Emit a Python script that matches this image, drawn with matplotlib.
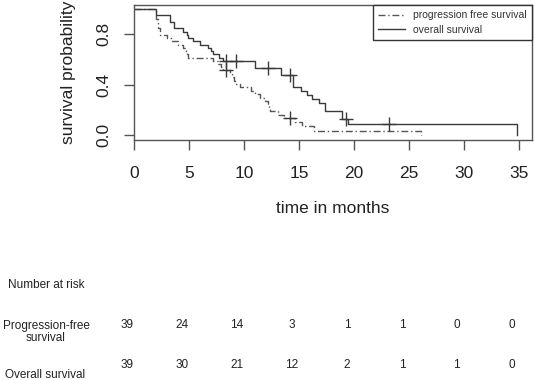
import matplotlib
matplotlib.use('Agg')
import matplotlib.pyplot as plt
import matplotlib.transforms as mtransforms

plt.rcParams['font.family'] = ['Liberation Sans', 'DejaVu Sans']

# overall survival: step times (months) and survival level after each step
os_time = [0, 2.0, 3.3, 3.6, 4.5, 4.8, 4.9, 5.4, 6.0, 6.7, 7.0, 7.2, 7.7, 8.1,
           11.0, 13.4, 14.5, 15.2, 15.7, 16.2, 16.8, 17.4, 18.9, 19.5, 34.8]
os_surv = [1.0, 0.949, 0.897, 0.846, 0.821, 0.795, 0.769, 0.744, 0.718, 0.692, 0.667, 0.641, 0.615, 0.590,
           0.534, 0.475, 0.380, 0.348, 0.317, 0.285, 0.253, 0.190, 0.127, 0.085, 0.0]
os_cens_t = [8.4, 9.3, 12.2, 14.2, 19.3, 23.2]
os_cens_s = [0.590, 0.590, 0.534, 0.475, 0.127, 0.085]

# progression free survival
pfs_time = [0, 2.0, 2.2, 2.4, 3.0, 3.4, 4.0, 4.5, 4.7, 4.8, 4.9,
            7.2, 7.6, 7.9, 8.1, 8.7, 8.9, 9.1, 9.3, 9.6,
            10.6, 11.0, 11.5, 11.9, 12.2, 12.3, 12.4, 13.1, 13.6, 14.6, 15.3, 16.4, 26.1]
pfs_surv = [1.0, 0.923, 0.846, 0.795, 0.769, 0.744, 0.718, 0.692, 0.667, 0.641, 0.615,
            0.590, 0.564, 0.538, 0.513, 0.486, 0.459, 0.432, 0.405, 0.378,
            0.351, 0.324, 0.297, 0.270, 0.243, 0.216, 0.189, 0.162, 0.135, 0.101, 0.068, 0.034, 0.0]
pfs_cens_t = [8.4, 14.2]
pfs_cens_s = [0.513, 0.135]

# number at risk table
risk_times = [0, 5, 10, 15, 20, 25, 30, 35]
pfs_risk = [39, 24, 14, 3, 1, 1, 0, 0]
os_risk = [39, 30, 21, 12, 2, 1, 1, 0]

line_col = '#3a3a3a'
axis_col = '#555555'

fig = plt.figure(figsize=(5.35, 3.8), dpi=100)
ax = fig.add_axes([134 / 535, 1 - 140 / 380, 398 / 535, 135 / 380])

ax.step(pfs_time, pfs_surv, where='post', color='#555555', lw=1.0,
        linestyle=(0, (5, 2, 1, 2)), label='progression free survival')
ax.step(os_time, os_surv, where='post', color=line_col, lw=1.0, label='overall survival')
ax.plot(pfs_cens_t, pfs_cens_s, '+', color=line_col, ms=10, mew=1.0)
ax.plot(os_cens_t, os_cens_s, '+', color=line_col, ms=10, mew=1.0)

ax.set_xlim(0, 36.2)
ax.set_ylim(-0.04, 1.032)
ax.set_xticks(risk_times)
ax.set_yticks([0.0, 0.4, 0.8])
ax.set_yticklabels(['0.0', '0.4', '0.8'], rotation=90, va='center')
for s in ax.spines.values():
    s.set_color(axis_col)
    s.set_linewidth(1.0)
ax.tick_params(axis='both', direction='out', length=7, width=1.0, color=axis_col,
               labelsize=12.5, labelcolor='#222222')
ax.tick_params(axis='x', pad=12)
ax.tick_params(axis='y', pad=9)

ax.set_xlabel('time in months', fontsize=12.5, color='#222222', labelpad=14)
ax.set_ylabel('survival probability', fontsize=12.5, color='#222222', labelpad=15)

leg = ax.legend(loc='upper right', fontsize=7.5, frameon=True, fancybox=False,
                framealpha=1, edgecolor='#333333', borderpad=0.5, handlelength=2.6,
                labelspacing=0.45, borderaxespad=0)
leg.get_frame().set_linewidth(1.0)
for t in leg.get_texts():
    t.set_color('#333333')

# number at risk table below the plot
tab_kw = dict(fontsize=8.5, color='#222222', va='center')
fig.text(8 / 535, 1 - 285 / 380, 'Number at risk', ha='left', **tab_kw)
fig.text(46 / 535, 1 - 332 / 380, 'Progression-free\nsurvival', ha='center',
         multialignment='center', linespacing=1.1, **tab_kw)
fig.text(45 / 535, 1 - 375 / 380, 'Overall survival', ha='center', **tab_kw)

shift = mtransforms.ScaledTranslation(-7 / 100, 0, fig.dpi_scale_trans)
trans = mtransforms.blended_transform_factory(ax.transData + shift, fig.transFigure)
for t, n in zip(risk_times, pfs_risk):
    ax.text(t, 1 - 325 / 380, str(n), transform=trans, ha='center', clip_on=False, **tab_kw)
for t, n in zip(risk_times, os_risk):
    ax.text(t, 1 - 365 / 380, str(n), transform=trans, ha='center', clip_on=False, **tab_kw)

fig.savefig('out.png', dpi=100)
